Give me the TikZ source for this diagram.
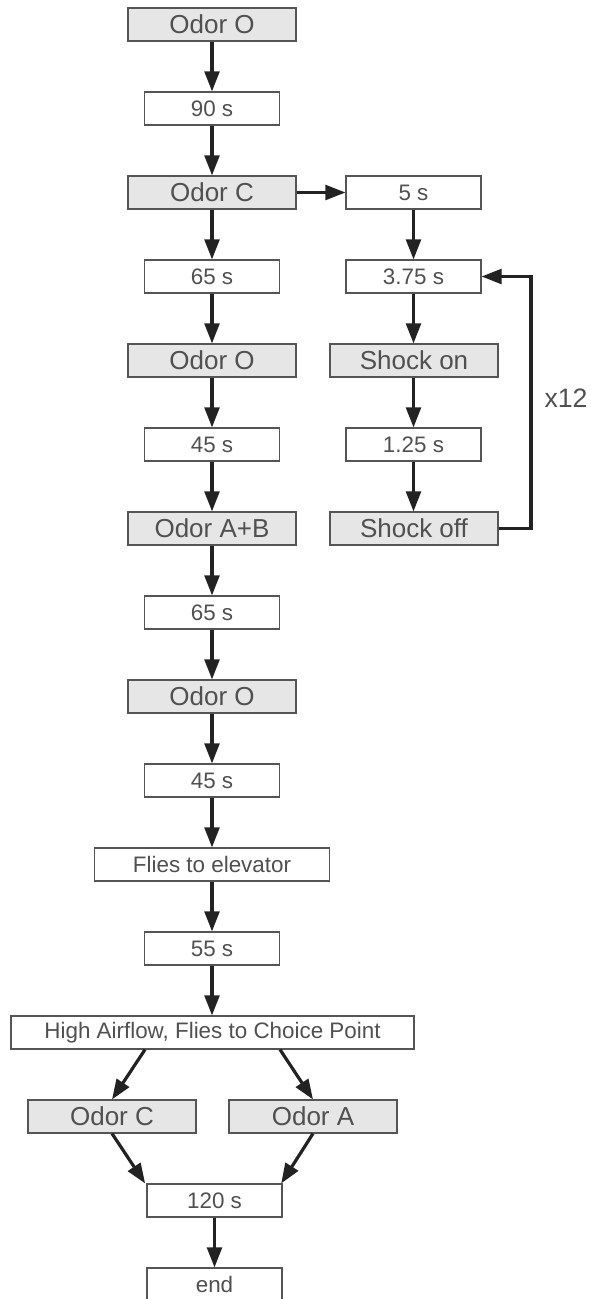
\documentclass[tikz,border=0pt]{standalone}
\usepackage{fontspec}
\setmainfont{Liberation Sans}
\usetikzlibrary{arrows.meta}
\definecolor{boxline}{HTML}{555555}
\definecolor{boxfill}{HTML}{E6E6E6}
\definecolor{txt}{HTML}{505050}
\definecolor{arrline}{HTML}{222222}
\begin{document}
\begin{tikzpicture}[x=0.75pt,y=-0.75pt,
	  gbox/.style={draw=boxline,fill=boxfill,line width=0.8pt,text=txt,inner sep=0pt,
	    minimum width=126pt,minimum height=24.75pt,font=\fontsize{19.5}{22}\selectfont},
	  wbox/.style={draw=boxline,fill=white,line width=0.8pt,text=txt,inner sep=0pt,
	    minimum width=101.25pt,minimum height=24.75pt,font=\fontsize{16.8}{19}\selectfont},
	  arr/.style={draw=arrline,line width=2.4pt,-{Triangle[length=15pt,width=11pt]}}]
	  \useasboundingbox (0,0) rectangle (591,1299);
	  \node[gbox] (o1) at (212,24.5) {Odor O};
	  \node[wbox] (t90) at (212,108.5) {90 s};
	  \node[gbox] (c1) at (212,192.5) {Odor C};
	  \node[wbox] (t65a) at (212,276.5) {65 s};
	  \node[gbox] (o2) at (212,360.5) {Odor O};
	  \node[wbox] (t45a) at (212,444.5) {45 s};
	  \node[gbox] (ab) at (212,528.5) {Odor A+B};
	  \node[wbox] (t65b) at (212,612.5) {65 s};
	  \node[gbox] (o3) at (212,696.5) {Odor O};
	  \node[wbox] (t45b) at (212,780.5) {45 s};
	  \node[wbox,minimum width=176.25pt] (fly) at (212,864.5) {Flies to elevator};
	  \node[wbox] (t55) at (212,948.5) {55 s};
	  \node[wbox,minimum width=302.25pt] (air) at (212.5,1032.5) {High Airflow, Flies to Choice Point};
	  \node[gbox] (oc) at (112,1116.5) {Odor C};
	  \node[gbox] (oa) at (313,1116.5) {Odor A};
	  \node[wbox] (t120) at (214.5,1200.5) {120 s};
	  \node[wbox] (end) at (214.5,1284.5) {end};
	  \node[wbox] (t5) at (413.5,192.5) {5 s};
	  \node[wbox] (t375) at (413.5,276.5) {3.75 s};
	  \node[gbox] (son) at (414,360.5) {Shock on};
	  \node[wbox] (t125) at (413.5,444.5) {1.25 s};
	  \node[gbox] (soff) at (414,528.5) {Shock off};
	  \node[text=txt,font=\fontsize{20}{22}\selectfont] (rep) at (566,398) {x12};
	  \coordinate (loop) at (531,528.5);
	  \draw[arr] (o1) -- (t90);
	  \draw[arr] (t90) -- (c1);
	  \draw[arr] (c1) -- (t65a);
	  \draw[arr] (t65a) -- (o2);
	  \draw[arr] (o2) -- (t45a);
	  \draw[arr] (t45a) -- (ab);
	  \draw[arr] (ab) -- (t65b);
	  \draw[arr] (t65b) -- (o3);
	  \draw[arr] (o3) -- (t45b);
	  \draw[arr] (t45b) -- (fly);
	  \draw[arr] (fly) -- (t55);
	  \draw[arr] (t55) -- (t55 |- air.north);
	  \draw[arr] ([xshift=-50.6pt]air.south) -- (oc.north);
	  \draw[arr] ([xshift=50.6pt]air.south) -- (oa.north);
	  \draw[arr] (oc.south) -- ([xshift=-52pt]t120.north);
	  \draw[arr] (oa.south) -- ([xshift=50pt]t120.north);
	  \draw[arr] (t120) -- (end);
	  \draw[arr] (c1) -- (t5);
	  \draw[arr] (t5) -- (t375);
	  \draw[arr] (t375) -- (t375 |- son.north);
	  \draw[arr] (son.south -| t125) -- (t125);
	  \draw[arr] (t125) -- (t125 |- soff.north);
	  \draw[arr] (soff.east) -- (loop) |- (t375.east);
\end{tikzpicture}
\end{document}
